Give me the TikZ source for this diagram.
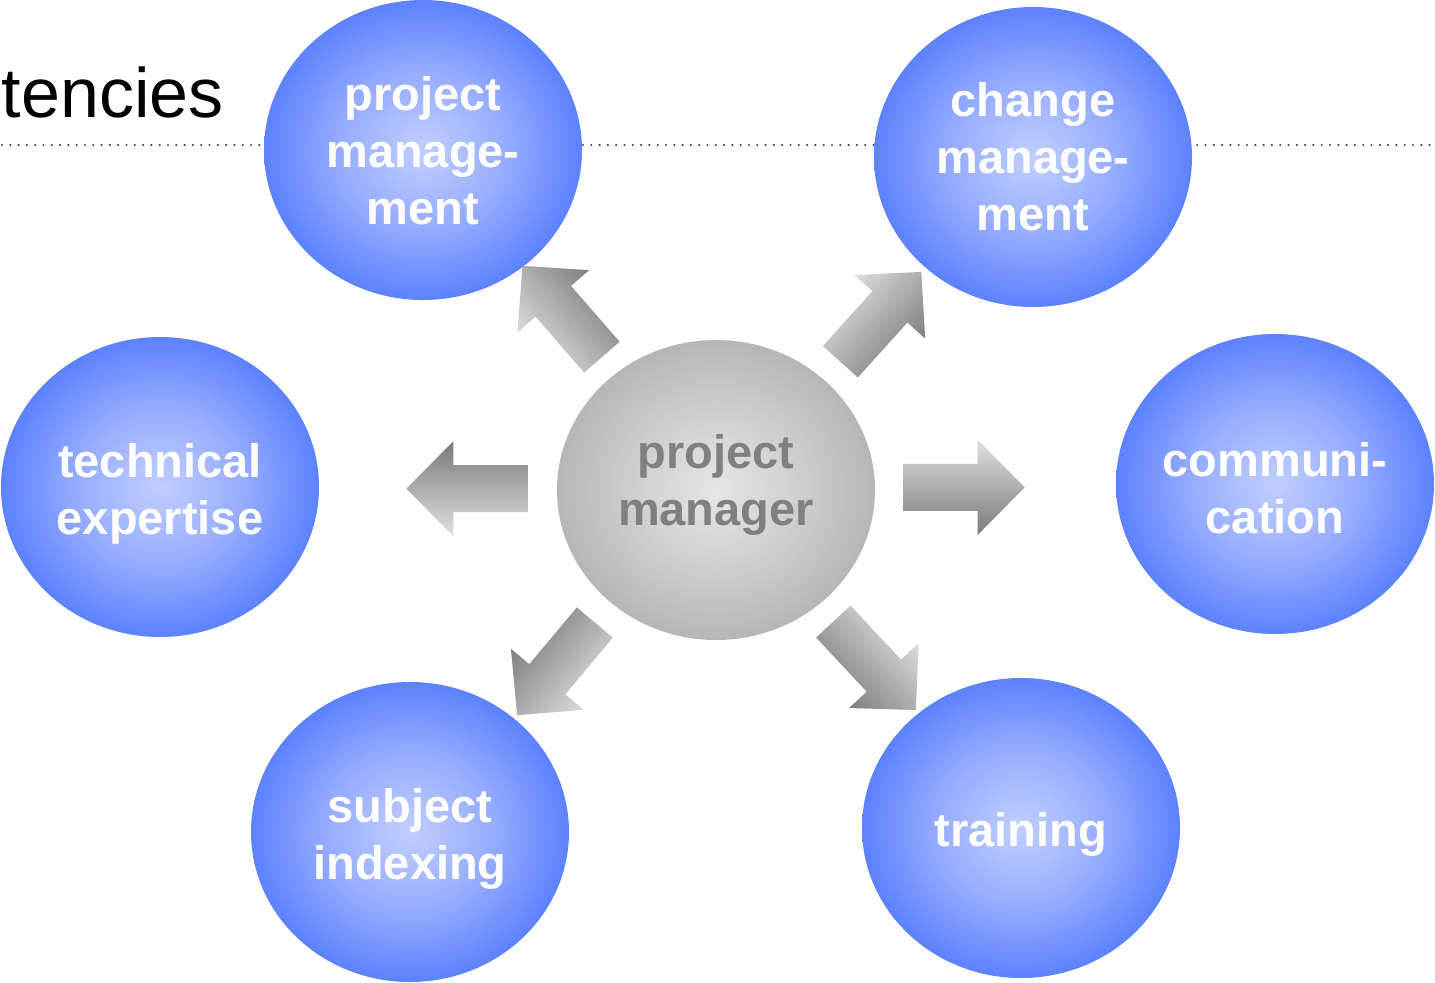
\documentclass[tikz,border=0pt]{standalone}
\usepackage{fontspec}
\setmainfont{Liberation Sans}
\usetikzlibrary{shapes.geometric,calc}
\definecolor{blueedge}{RGB}{92,130,255}
\definecolor{bluemid}{RGB}{150,172,255}
\definecolor{bluecenter}{RGB}{192,207,255}
\definecolor{greyedge}{RGB}{182,182,182}
\definecolor{greymid}{RGB}{207,207,207}
\definecolor{greycenter}{RGB}{230,230,230}
\definecolor{greytext}{RGB}{128,128,128}
\definecolor{dotcol}{RGB}{70,70,70}
\pgfdeclareradialshading{blueball}{\pgfpoint{0bp}{0bp}}{color(0bp)=(bluecenter); color(13bp)=(bluemid); color(25bp)=(blueedge); color(50bp)=(blueedge)}
\pgfdeclareradialshading{greyball}{\pgfpoint{0bp}{0bp}}{color(0bp)=(greycenter); color(13bp)=(greymid); color(25bp)=(greyedge); color(50bp)=(greyedge)}
\newcommand\blockarr[2]{%
  \path[shift={#1}, rotate=#2, top color=black!12, bottom color=black!52, shading angle=#2]
    (-60.5,-23.5) -- (13.5,-23.5) -- (13.5,-47.5) -- (60.5,0) -- (13.5,47.5) -- (13.5,23.5) -- (-60.5,23.5) -- cycle;}
% #1 = distance of the last line's baseline below the node centre
\newcommand\balltext[2]{\raisebox{-#1}[0pt][0pt]{\begin{tabular}[b]{@{}c@{}}#2\end{tabular}}}
\begin{document}
\begin{tikzpicture}[x=0.5pt,y=-0.5pt,
  ball/.style={ellipse, minimum width=159pt, minimum height=150pt, inner sep=0pt,
    shade, shading=blueball, text=white,
    font=\bfseries\fontsize{23.5}{28.5}\selectfont},
  centreball/.style={ball, shading=greyball, text=greytext},
  titletext/.style={font=\fontsize{35}{40}\selectfont, text=black, inner sep=0pt}]
\useasboundingbox (0,0) rectangle (1435,982);
\draw[dotcol, line width=1.2pt, line cap=round, dash pattern=on 0pt off 4.15pt] (2,145) -- (1435,145);
\node[titletext, anchor=base east] (title) at (224,117) {tencies};
\node[ball] (pm) at (423,150) {\balltext{37pt}{project\\manage-\\ment}};
\node[ball] (cm) at (1033,157) {\balltext{36.5pt}{change\\manage-\\ment}};
\node[ball] (tech) at (160,487) {\balltext{23.5pt}{technical\\expertise}};
\node[ball] (comm) at (1275,484) {\balltext{24.5pt}{communi-\\cation}};
\node[ball] (subj) at (410,832) {\balltext{23.5pt}{subject\\indexing}};
\node[ball] (train) at (1021,828) {\balltext{9pt}{training}};
\node[centreball] (pmgr) at (716,490) {\balltext{17.5pt}{project\\manager}};
\blockarr{($(pmgr.center)!0.525!(pm.center)$)}{131}
\blockarr{($(pmgr.center)!0.52!(cm.center)$)}{48}
\blockarr{($(pmgr.center)!0.444!(comm.center)$)}{0}
\blockarr{($(pmgr.center)!0.448!(tech.center)$)}{180}
\blockarr{($(pmgr.center)!0.523!(subj.center)$)}{-130}
\blockarr{($(pmgr.center)!0.52!(train.center)$)}{-47}
\end{tikzpicture}
\end{document}
